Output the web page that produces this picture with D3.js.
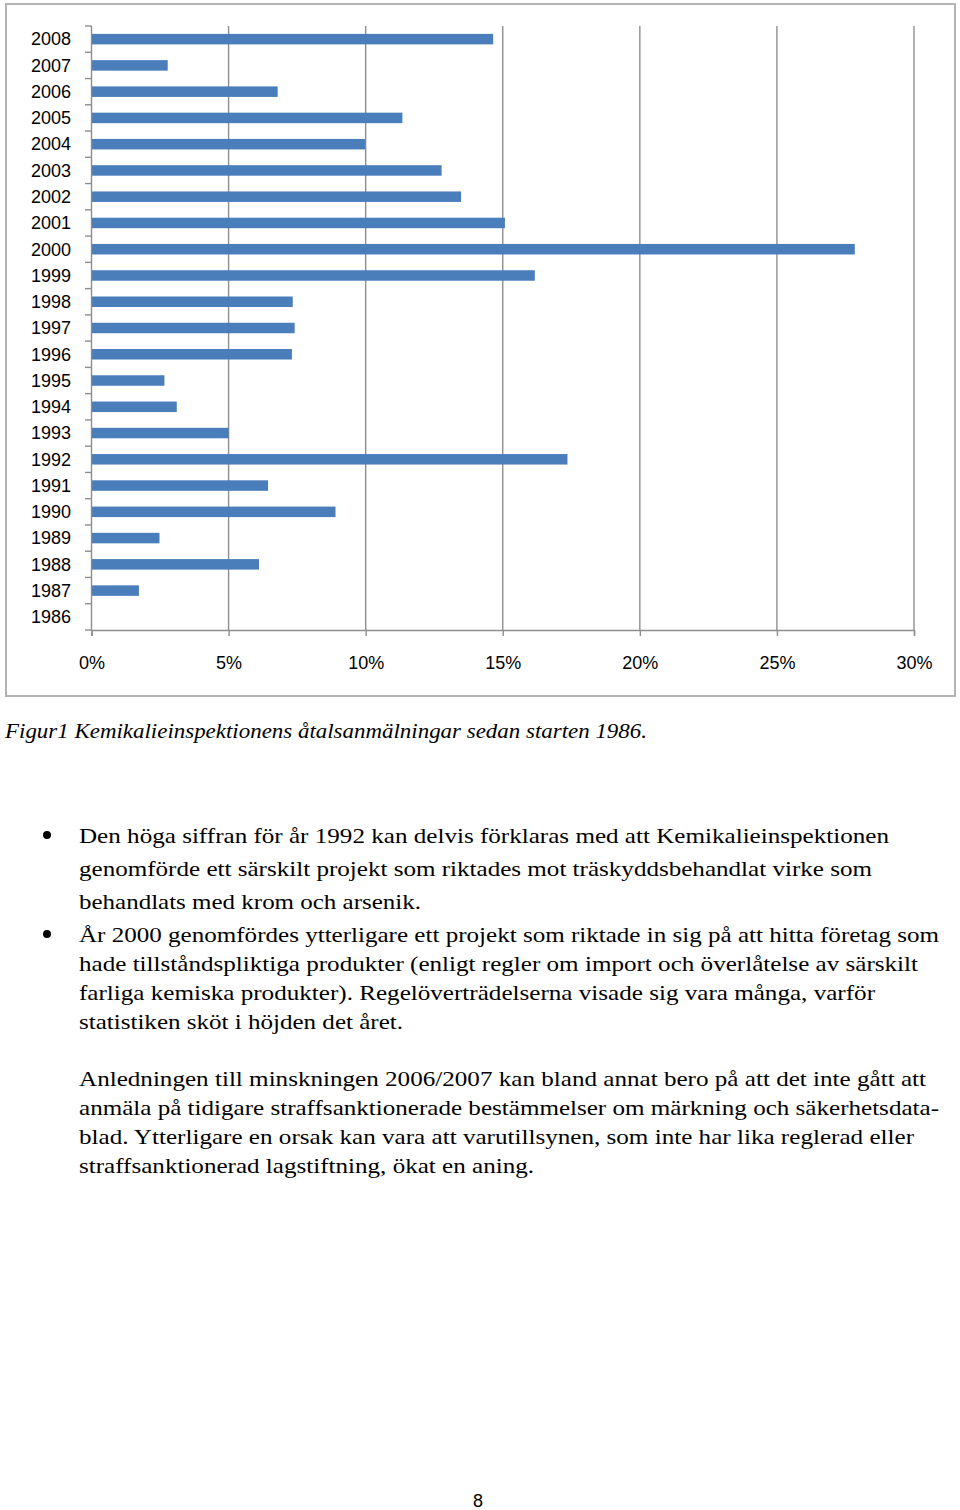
<!DOCTYPE html>
<html>
<head>
<meta charset="utf-8">
<script src="https://cdn.jsdelivr.net/npm/d3@7"></script>
<style>
  html, body { margin: 0; padding: 0; background: #fff; }
  svg { display: block; }
</style>
</head>
<body>
<svg id="page" width="960" height="1510"></svg>
<script>
// ---------- data ----------
const years = ["2008","2007","2006","2005","2004","2003","2002","2001","2000","1999","1998","1997",
               "1996","1995","1994","1993","1992","1991","1990","1989","1988","1987","1986"];
const shares = [14.65, 2.78, 6.79, 11.34, 9.98, 12.77, 13.48, 15.08, 27.84, 16.17, 7.34, 7.41,
                7.31, 2.66, 3.11, 5.0, 17.36, 6.44, 8.90, 2.48, 6.11, 1.73, 0];
const xTicks = [0, 5, 10, 15, 20, 25, 30];
const caption = "Figur1 Kemikalieinspektionens åtalsanmälningar sedan starten 1986.";
const bullet1 = ["Den höga siffran för år 1992 kan delvis förklaras med att Kemikalieinspektionen",
                 "genomförde ett särskilt projekt som riktades mot träskyddsbehandlat virke som",
                 "behandlats med krom och arsenik."];
const bullet2 = ["År 2000 genomfördes ytterligare ett projekt som riktade in sig på att hitta företag som",
                 "hade tillståndspliktiga produkter (enligt regler om import och överlåtelse av särskilt",
                 "farliga kemiska produkter). Regelöverträdelserna visade sig vara många, varför",
                 "statistiken sköt i höjden det året."];
const para = ["Anledningen till minskningen 2006/2007 kan bland annat bero på att det inte gått att",
              "anmäla på tidigare straffsanktionerade bestämmelser om märkning och säkerhetsdata-",
              "blad. Ytterligare en orsak kan vara att varutillsynen, som inte har lika reglerad eller",
              "straffsanktionerad lagstiftning, ökat en aning."];
const pageNumber = "8";

// ---------- layout ----------
const svg = d3.select("#page");
svg.append("rect").attr("width", 960).attr("height", 1510).attr("fill", "#fff");

// chart frame
svg.append("rect").attr("x", 6).attr("y", 4).attr("width", 949).attr("height", 692)
  .attr("fill", "#fff").attr("stroke", "#b4b4b4").attr("stroke-width", 2);

const x = d3.scaleLinear().domain([0, 30]).range([91.5, 914]);
const y = d3.scaleBand().domain(years).range([26, 630]).paddingInner(0.6).paddingOuter(0.3);

const grid = "#8e8e8e";
const g = svg.append("g");

// vertical gridlines
g.selectAll("line.grid").data(xTicks.filter(t => t > 0)).join("line")
  .attr("class", "grid")
  .attr("x1", d => x(d)).attr("x2", d => x(d))
  .attr("y1", 26).attr("y2", 630)
  .attr("stroke", grid).attr("stroke-width", 1.4);

// bars
g.selectAll("rect.bar").data(years.map((yr, i) => ({yr, v: shares[i]}))).join("rect")
  .attr("class", "bar")
  .attr("x", x(0))
  .attr("y", d => y(d.yr))
  .attr("width", d => x(d.v) - x(0))
  .attr("height", y.bandwidth())
  .attr("fill", "#4a7ebb");

// x axis
const xAxis = d3.axisBottom(x).tickValues(xTicks).tickFormat(d => d + "%").tickSize(6).tickPadding(20);
const gx = svg.append("g").attr("transform", "translate(0,630)").call(xAxis);
gx.select(".domain").attr("stroke", grid).attr("stroke-width", 1.4);
gx.selectAll(".tick line").attr("stroke", grid).attr("stroke-width", 1.4);
gx.selectAll(".tick text").attr("font-family", "'Liberation Sans', Arial, sans-serif")
  .attr("font-size", 18).attr("fill", "#000");

// y axis: line + ticks at band boundaries
const gy = svg.append("g");
gy.append("line").attr("x1", x(0)).attr("x2", x(0)).attr("y1", 26).attr("y2", 630)
  .attr("stroke", grid).attr("stroke-width", 1.4);
const bounds = d3.range(years.length + 1).map(i => 26 + i * (604 / years.length));
gy.selectAll("line.yt").data(bounds).join("line").attr("class", "yt")
  .attr("x1", x(0) - 6.5).attr("x2", x(0)).attr("y1", d => d).attr("y2", d => d)
  .attr("stroke", grid).attr("stroke-width", 1.4);
gy.selectAll("text.yl").data(years).join("text").attr("class", "yl")
  .attr("x", 71).attr("y", d => y(d) + y.bandwidth() / 2)
  .attr("dy", "0.35em").attr("text-anchor", "end")
  .attr("font-family", "'Liberation Sans', Arial, sans-serif").attr("font-size", 18)
  .attr("fill", "#000").text(d => d);

// caption
svg.append("text").attr("x", 5).attr("y", 738)
  .attr("font-family", "'Liberation Serif', 'Times New Roman', serif")
  .attr("font-style", "italic").attr("font-size", 21)
  .attr("textLength", 642).attr("lengthAdjust", "spacingAndGlyphs")
  .attr("fill", "#000").text(caption);

// body text
const serif = "'Liberation Serif', 'Times New Roman', serif";
function block(lines, baselines, widths) {
  lines.forEach((t, i) => {
    svg.append("text").attr("x", 79).attr("y", baselines[i])
      .attr("font-family", serif).attr("font-size", 21.5)
      .attr("textLength", widths[i]).attr("lengthAdjust", "spacingAndGlyphs")
      .attr("fill", "#000").text(t);
  });
}
block(bullet1, [843, 876, 909], [810, 793, 342]);
block(bullet2, [942, 971, 1000, 1029], [860, 839, 796, 324]);
block(para, [1086, 1115, 1144, 1173], [847, 860, 835, 455]);

// bullets
[835, 934].forEach(cy => {
  svg.append("circle").attr("cx", 47).attr("cy", cy).attr("r", 4).attr("fill", "#000");
});

// page number
svg.append("text").attr("x", 478).attr("y", 1507).attr("text-anchor", "middle")
  .attr("font-family", "'Liberation Sans', Arial, sans-serif").attr("font-size", 18)
  .attr("fill", "#000").text(pageNumber);
</script>
</body>
</html>
